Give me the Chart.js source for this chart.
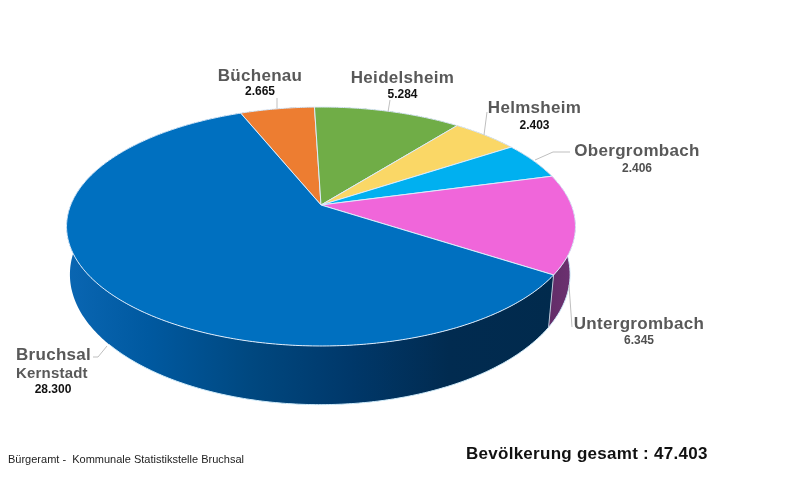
<!DOCTYPE html>
<html>
<head>
<meta charset="utf-8">
<style>
  html, body { margin: 0; padding: 0; background: #fff; }
  canvas { display: block; }
</style>
<script src="https://cdn.jsdelivr.net/npm/chart.js@4"></script>
</head>
<body>
<canvas id="pie" width="800" height="500"></canvas>
<script>
const categories = ['Büchenau', 'Heidelsheim', 'Helmsheim', 'Obergrombach', 'Untergrombach', 'Bruchsal'];
const population = [2665, 5284, 2403, 2406, 6345, 28300];
const topColors = ['#ED7D31', '#70AD47', '#FAD766', '#00B0F0', '#F066DA', '#0070C0'];

const footerText = 'Bürgeramt -  Kommunale Statistikstelle Bruchsal';
const totalLabel = 'Bevölkerung gesamt : ';

const formatNumber = (val) => new Intl.NumberFormat('de-DE').format(val);

// perspective of the top face and of the lower rim
const topFace = { cx: 321, cy: 205, a: 250.3, b: 115.6, k: 0.18 };
const lowerRim = { cx: 320, cy: 251, a: 246, b: 126, k: 0.18 };

const project = (face, angle) => {
  const u = Math.cos(angle);
  const v = -Math.sin(angle);
  const d = 1 + face.k * v;
  return [face.cx + face.a * u / d, face.cy - face.b * v / d];
};

function rimPoints(face, start, end) {
  const steps = Math.max(2, Math.ceil((end - start) * 90));
  const pts = [];
  for (let i = 0; i <= steps; i++) {
    pts.push(project(face, start + (end - start) * i / steps));
  }
  return pts;
}

function wallGradient(ctx, index) {
  const g = ctx.createLinearGradient(67, 0, 576, 0);
  if (index === 5) {
    g.addColorStop(0, '#0A66B2');
    g.addColorStop(0.16, '#0059A0');
    g.addColorStop(0.36, '#004880');
    g.addColorStop(0.556, '#00386A');
    g.addColorStop(0.75, '#012B50');
    g.addColorStop(1, '#012A4C');
  } else if (index === 4) {
    g.addColorStop(0.9, '#58285F');
    g.addColorStop(1, '#6E3272');
  } else {
    g.addColorStop(0, '#333');
    g.addColorStop(1, '#333');
  }
  return g;
}

const pie3d = {
  id: 'pie3d',
  beforeDatasetDraw(chart) {
    const ctx = chart.ctx;
    const arcs = chart.getDatasetMeta(0).data;

    // side wall first, back slices before front ones
    arcs.forEach((arc, i) => {
      const top = rimPoints(topFace, arc.startAngle, arc.endAngle);
      const low = rimPoints(lowerRim, arc.startAngle, arc.endAngle);
      ctx.beginPath();
      top.forEach((p, n) => n ? ctx.lineTo(p[0], p[1]) : ctx.moveTo(p[0], p[1]));
      low.reverse().forEach((p) => ctx.lineTo(p[0], p[1]));
      ctx.closePath();
      ctx.fillStyle = wallGradient(ctx, i);
      ctx.fill();
    });

    // lower rim highlight, front part only
    const first = arcs[4];
    const last = arcs[5];
    ctx.beginPath();
    rimPoints(lowerRim, first.startAngle + 0.3, last.endAngle - 1.9).forEach((p, n) => n ? ctx.lineTo(p[0], p[1]) : ctx.moveTo(p[0], p[1]));
    ctx.strokeStyle = '#CFEBFA';
    ctx.lineWidth = 1;
    ctx.stroke();

    // edge between the two visible walls
    const a = project(topFace, last.startAngle);
    const b = project(lowerRim, last.startAngle);
    ctx.beginPath();
    ctx.moveTo(a[0], a[1]);
    ctx.lineTo(b[0], b[1]);
    ctx.strokeStyle = '#B9C6D6';
    ctx.stroke();

    // top face
    arcs.forEach((arc, i) => {
      ctx.beginPath();
      ctx.moveTo(topFace.cx, topFace.cy);
      rimPoints(topFace, arc.startAngle, arc.endAngle).forEach((p) => ctx.lineTo(p[0], p[1]));
      ctx.closePath();
      ctx.fillStyle = topColors[i];
      ctx.fill();
      ctx.strokeStyle = '#DDEBFA';
      ctx.lineWidth = 1;
      ctx.stroke();
    });
    return false;
  },
  afterDraw(chart) {
    const ctx = chart.ctx;
    const total = population.reduce((s, v) => s + v, 0);

    const leaders = [
      [[277, 98], [277, 108]],
      [[390, 100], [388, 112]],
      [[487, 112], [484, 135]],
      [[570, 152], [553, 152], [535, 160]],
      [[572, 327], [569, 285]],
      [[93, 357], [98, 357], [107, 346]]
    ];
    ctx.strokeStyle = '#BFBFBF';
    ctx.lineWidth = 1;
    leaders.forEach((line) => {
      ctx.beginPath();
      line.forEach((p, n) => n ? ctx.lineTo(p[0], p[1]) : ctx.moveTo(p[0], p[1]));
      ctx.stroke();
    });

    const name = 'bold 17px "Liberation Sans"';
    const num = 'bold 12px "Liberation Sans"';
    const text = (str, x, y, font, color, align, spacing) => {
      ctx.font = font;
      ctx.fillStyle = color;
      ctx.textAlign = align || 'center';
      ctx.letterSpacing = spacing || '0px';
      ctx.textBaseline = 'alphabetic';
      ctx.fillText(str, x, y);
    };

    const spots = [
      { x: 260, y: 81, vy: 95, dark: true },
      { x: 402.5, y: 83, vy: 98, dark: true },
      { x: 534.5, y: 113, vy: 129, dark: true },
      { x: 637, y: 156, vy: 172, dark: false },
      { x: 639, y: 329, vy: 344, dark: false }
    ];
    spots.forEach((s, i) => {
      text(categories[i], s.x, s.y, name, '#595959', 'center', '0.3px');
      text(formatNumber(population[i]), s.x, s.vy, num, s.dark ? '#111' : '#505050');
    });

    text(categories[5], 16, 360, name, '#595959', 'left', '0.3px');
    text('Kernstadt', 16, 378, 'bold 15px "Liberation Sans"', '#595959', 'left', '0.2px');
    text(formatNumber(population[5]), 53, 393, num, '#111');

    text(footerText, 8, 463, '11px "Liberation Sans"', '#222', 'left');
    text(totalLabel + formatNumber(total), 466, 459, 'bold 17px "Liberation Sans"', '#111', 'left', '0.27px');
  }
};

new Chart(document.getElementById('pie').getContext('2d'), {
  type: 'pie',
  data: {
    labels: categories,
    datasets: [{ data: population, backgroundColor: topColors }]
  },
  options: {
    responsive: false,
    animation: false,
    rotation: -22,
    events: [],
    plugins: { legend: { display: false }, tooltip: { enabled: false } }
  },
  plugins: [pie3d]
});
</script>
</body>
</html>
